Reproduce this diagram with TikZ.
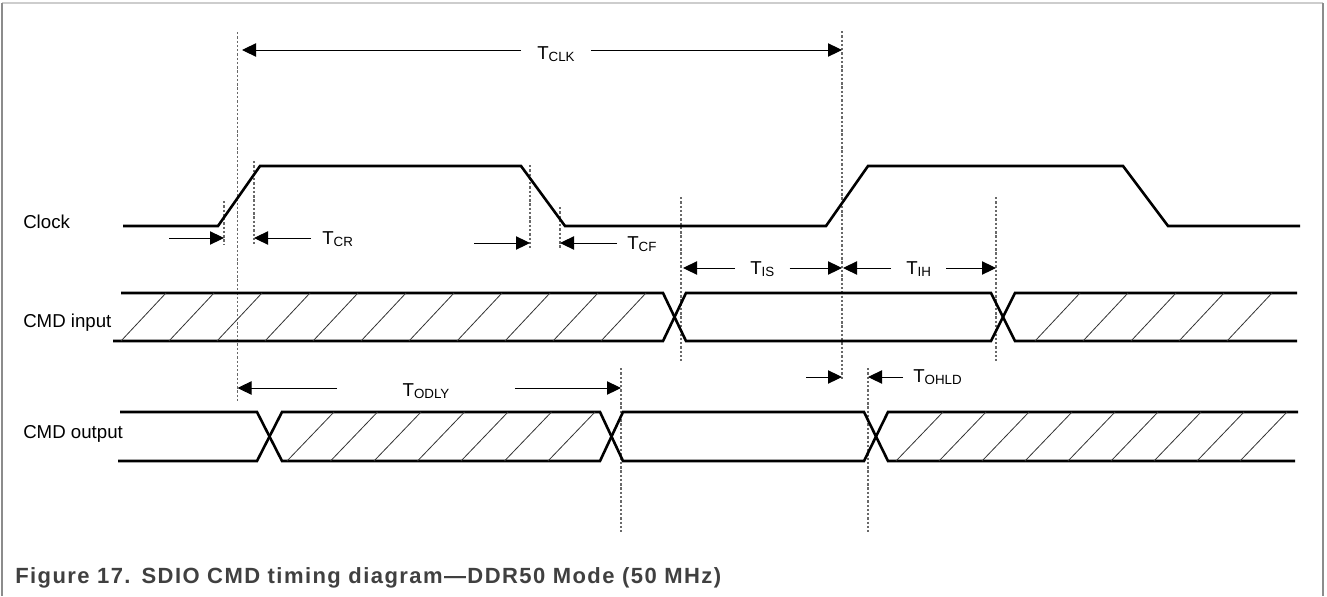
\documentclass[tikz,border=0pt]{standalone}
\usepackage{fontspec}
\setmainfont{Liberation Sans}
\newfontfamily\capfont[LetterSpace=6.5]{Liberation Sans}
\usetikzlibrary{arrows.meta}
\definecolor{guidegray}{RGB}{105,105,105}
\definecolor{framegray}{RGB}{140,140,140}
\definecolor{framelight}{RGB}{205,205,205}
\definecolor{capgray}{RGB}{64,64,64}
\newcommand{\tsub}[1]{T\raisebox{-0.25ex}{\fontsize{10}{11}\selectfont #1}}
\tikzset{
	sig/.style={line width=1.95pt, line join=miter},
	guide/.style={color=guidegray, line width=0.9pt, dash pattern={on 1.8pt off 1.4pt}},
	hatch/.style={line width=0.6pt, color=black!80},
	dim/.style={line width=0.75pt, -{Triangle[length=10.5pt,width=10pt]}},
	siglbl/.style={anchor=base west, inner sep=0pt, font=\fontsize{14}{16}\selectfont},
	tlbl/.style={anchor=base west, inner ysep=0pt, font=\fontsize{14}{16}\selectfont},
}

\begin{document}
\begin{tikzpicture}[x=0.75pt,y=0.75pt,yscale=-1,xscale=1]
	\useasboundingbox (0,0) rectangle (1327,596);
	
	%Shape: Frame
	\draw [framelight, line width=1.2pt] (2,3) -- (1323,3) ;
	\draw [framegray, line width=0.9pt] (2,3) -- (2,596) ;
	\draw [framegray, line width=0.9pt] (1323,3) -- (1323,596) ;
	
	%Straight Lines: guides
	\draw [guide] (237.5,32) -- (237.5,403) ;
	\draw [guide] (224,201) -- (224,244) ;
	\draw [guide] (254,161) -- (254,244) ;
	\draw [guide] (530,165) -- (530,248) ;
	\draw [guide] (560,207) -- (560,248) ;
	\draw [guide] (681,197) -- (681,361) ;
	\draw [guide] (842,31) -- (842,380) ;
	\draw [guide] (996,197) -- (996,361) ;
	\draw [guide] (621,368) -- (621,532) ;
	\draw [guide] (868,368) -- (868,532) ;
	
	%Shape: Clock
	\draw [sig] (123,226) -- (218,226) -- (260,166) -- (521,166) -- (565,226) -- (826,226) -- (868,166) -- (1123,166) -- (1168,226) -- (1300,226) ;
	
	%Shape: CMD input bus
	\draw [sig] (121,293) -- (663,293) -- (686,341) -- (991,341) -- (1015,293) -- (1297,293) ;
	\draw [sig] (113,341) -- (663,341) -- (686,293) -- (991,293) -- (1015,341) -- (1297,341) ;
	\foreach \hx in {121,169,...,601} \draw [hatch] (\hx,341) -- ++(45,-48) ;
	\foreach \hx in {1035,1083,...,1227} \draw [hatch] (\hx,341) -- ++(45,-48) ;
	
	%Shape: CMD output bus
	\draw [sig] (120,412) -- (257,412) -- (282,461) -- (600,461) -- (623,412) -- (864,412) -- (888,461) -- (1295,461) ;
	\draw [sig] (118,461) -- (257,461) -- (282,412) -- (600,412) -- (623,461) -- (864,461) -- (888,412) -- (1298,412) ;
	\foreach \hx in {287,330.5,...,550} \draw [hatch] (\hx,461) -- ++(47,-49) ;
	\foreach \hx in {896,939,...,1240} \draw [hatch] (\hx,461) -- ++(47,-49) ;
	
	% Text Node
	\node [siglbl] (clk) at (23,228) {Clock};
	\node [siglbl] (cmdin) at (23,327) {CMD input};
	\node [siglbl] (cmdout) at (23,438) {CMD output};
	
	% Text Node
	\node [tlbl, inner xsep=12pt] (tclk) at (521,59) {\tsub{CLK}};
	\node [tlbl, inner xsep=8.25pt] (tcr) at (311,244) {\tsub{CR}};
	\node [tlbl, inner xsep=7.5pt] (tcf) at (617,249) {\tsub{CF}};
	\node [tlbl, inner xsep=11.25pt] (tis) at (735,274) {\tsub{IS}};
	\node [tlbl, inner xsep=11.25pt] (tih) at (891,274) {\tsub{IH}};
	\node [tlbl, inner xsep=49pt] (todly) at (337,396) {\tsub{ODLY}};
	\node [tlbl, inner xsep=7.5pt] (tohld) at (903,382) {\tsub{OHLD}};
	
	%Straight Lines: arrow tips
	\coordinate (clkL) at (242,50);
	\coordinate (clkR) at (842,50);
	\coordinate (crA) at (169,238);
	\coordinate (crL) at (224,238);
	\coordinate (crR) at (254,238);
	\coordinate (cfA) at (474,243);
	\coordinate (cfL) at (530,243);
	\coordinate (cfR) at (560,243);
	\coordinate (isL) at (683,268);
	\coordinate (isR) at (842,268);
	\coordinate (ihL) at (843,268);
	\coordinate (ihR) at (996,268);
	\coordinate (odL) at (237.5,388);
	\coordinate (odR) at (621,388);
	\coordinate (ohA) at (806,377);
	\coordinate (ohL) at (842,377);
	\coordinate (ohR) at (868,377);
	
	\draw [dim] (tclk.west |- clkL) -- (clkL) ;
	\draw [dim] (tclk.east |- clkR) -- (clkR) ;
	\draw [dim] (crA) -- (crL) ;
	\draw [dim] (tcr.west |- crR) -- (crR) ;
	\draw [dim] (cfA) -- (cfL) ;
	\draw [dim] (tcf.west |- cfR) -- (cfR) ;
	\draw [dim] (tis.west |- isL) -- (isL) ;
	\draw [dim] (tis.east |- isR) -- (isR) ;
	\draw [dim] (tih.west |- ihL) -- (ihL) ;
	\draw [dim] (tih.east |- ihR) -- (ihR) ;
	\draw [dim] (todly.west |- odL) -- (odL) ;
	\draw [dim] (todly.east |- odR) -- (odR) ;
	\draw [dim] (ohA) -- (ohL) ;
	\draw [dim] (tohld.west |- ohR) -- (ohR) ;
	
	% Text Node
	\node [anchor=base west, inner sep=0pt, text=capgray, font=\capfont\bfseries\fontsize{16.5}{18}\selectfont] (caption) at (15,583) {Figure 17.\hspace{0.5em}SDIO CMD timing diagram—DDR50 Mode (50 MHz)};
	
\end{tikzpicture}
\end{document}
